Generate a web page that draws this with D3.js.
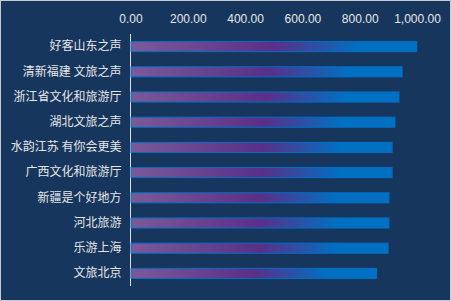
<!DOCTYPE html>
<html><head><meta charset="utf-8">
<script src="https://cdn.jsdelivr.net/npm/d3@7"></script>
<style>html,body{margin:0;padding:0;background:#fff;overflow:hidden}</style>
</head><body><svg id="c" width="451" height="301"></svg>
<script>
const categories = ["好客山东之声","清新福建 文旅之声","浙江省文化和旅游厅","湖北文旅之声","水韵江苏 有你会更美","广西文化和旅游厅","新疆是个好地方","河北旅游","乐游上海","文旅北京"];
const values = [999, 948, 937, 923, 913, 913, 902, 902, 899, 859];
const tickValues = [0, 200, 400, 600, 800, 1000];

const svg = d3.select("#c");
svg.append("rect").attr("x",0.5).attr("y",0.5).attr("width",450).attr("height",300)
  .attr("fill","#17365d").attr("stroke","#c8ccd2").attr("stroke-width",1);

const defs = svg.append("defs");
const g = defs.append("linearGradient").attr("id","barGrad").attr("x1","0").attr("x2","1").attr("y1","0").attr("y2","0");
g.append("stop").attr("offset","0").attr("stop-color","#7b5a98");
g.append("stop").attr("offset","0.5").attr("stop-color","#5a2f88");
g.append("stop").attr("offset","0.8").attr("stop-color","#0070c2");
g.append("stop").attr("offset","1").attr("stop-color","#0070c2");

const x = d3.scaleLinear().domain([0,1000]).range([130.5,417]);
const y = d3.scaleBand().domain(categories).range([34,286]).paddingInner(0.6).paddingOuter(0.3);

const xAxis = svg.append("g").attr("transform","translate(0,23)")
  .call(d3.axisTop(x).tickValues(tickValues).tickSize(0).tickPadding(0).tickFormat(d3.format(",.2f")));
xAxis.select(".domain").remove();
xAxis.selectAll("text").attr("fill","#e6e6e6").attr("font-size",12)
  .attr("font-family","'Liberation Sans', Arial, sans-serif");

const yAxis = svg.append("g").attr("transform","translate(130.5,0)")
  .call(d3.axisLeft(y).tickSize(0).tickPadding(9));
yAxis.select(".domain").attr("stroke","#e0e0e0").attr("stroke-width",1)
  .attr("d","M0,34V286");
yAxis.selectAll("text").attr("fill","#e6e6e6").attr("font-size",12)
  .attr("font-family","'Noto Sans CJK SC', sans-serif");

svg.append("g").selectAll("rect").data(values).join("rect")
  .attr("x", x(0)+0.5)
  .attr("y", (d,i)=>y(categories[i]))
  .attr("width", d=>x(d)-x(0)-0.5)
  .attr("height", y.bandwidth())
  .attr("fill","url(#barGrad)")
  .attr("stroke","#0070c8").attr("stroke-width",1);
</script></body></html>
